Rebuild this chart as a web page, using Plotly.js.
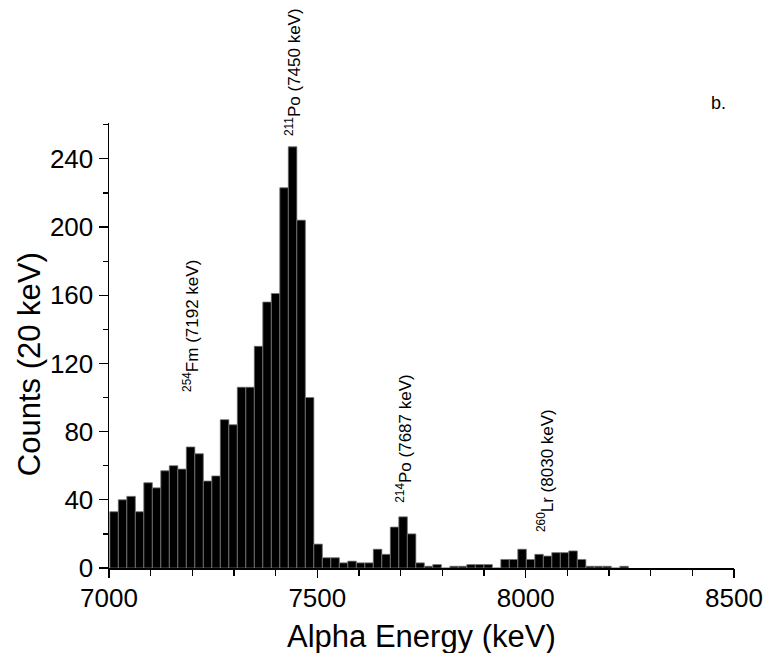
<!DOCTYPE html>
<html>
<head>
<meta charset="utf-8">
<script src="https://cdn.plot.ly/plotly-3.0.1.min.js"></script>
<style>html,body{margin:0;padding:0;background:#fff;}#chart{width:767px;height:653px;}</style>
</head>
<body>
<div id="chart"></div>
<script>
// Histogram of alpha energies (counts per bin), bins starting near 7000 keV
const binStart = 7002;      // keV, left edge of first bin
const binWidth = 20.4;      // keV
const counts = [
  33, 40, 42, 33, 50, 47, 57, 60, 58, 71,
  67, 51, 54, 87, 84, 106, 106, 130, 156, 161,
  223, 247, 204, 100, 14, 6, 6, 3, 4, 3,
  3, 11, 8, 24, 30, 20, 3, 1, 2, 0,
  1, 1, 2, 2, 2, 0, 5, 5, 11, 5,
  8, 7, 9, 9, 10, 5, 1, 1, 1, 0,
  1
];
const peakLabels = [
  '<sup>211</sup>Po (7450 keV)',
  '<sup>254</sup>Fm (7192 keV)',
  '<sup>214</sup>Po (7687 keV)',
  '<sup>260</sup>Lr (8030 keV)'
];
const peakLabelX = [7442, 7197, 7709, 8047];
const peakLabelY = [291, 142, 76, 57];   // counts scale (may lie above the axis top)
const panelLabel = 'b.';
const xTitle = 'Alpha Energy (keV)';
const yTitle = 'Counts (20 keV)';
const xTickVals = [7000, 7100, 7200, 7300, 7400, 7500, 7600, 7700, 7800, 7900,
                   8000, 8100, 8200, 8300, 8400, 8500];
const xTickText = ['7000', '', '', '', '', '7500', '', '', '', '',
                   '8000', '', '', '', '', '8500'];
const xMajorVals = [7000, 7500, 8000, 8500];
const yTickVals = [0, 40, 80, 120, 160, 200, 240];
const yMinorVals = [20, 60, 100, 140, 180, 220, 260];

const font = 'Liberation Sans, Arial, sans-serif';
const xRange = [7000, 8500];
const yMax = 261;

const trace = {
  type: 'bar',
  x0: binStart + binWidth / 2,
  dx: binWidth,
  y: counts,
  marker: {color: '#000', line: {color: '#9a9a9a', width: 0.6}},
  hoverinfo: 'skip'
};
// same bars again on an overlaid axis that carries the longer major ticks
const majorAxisTrace = Object.assign({}, trace, {xaxis: 'x2', yaxis: 'y'});

const annotations = peakLabels.map((t, i) => ({
  text: t, x: peakLabelX[i], y: peakLabelY[i] / yMax, xref: 'x', yref: 'paper',
  textangle: -90, showarrow: false, xanchor: 'center', yanchor: 'middle',
  font: {family: font, size: 17, color: '#000'}
}));
annotations.push({
  text: panelLabel, x: 8463, y: 1.045, xref: 'x', yref: 'paper', showarrow: false,
  xanchor: 'center', yanchor: 'middle', font: {family: font, size: 18, color: '#000'}
});
annotations.push({
  text: yTitle, x: -0.128, y: 0.458, xref: 'paper', yref: 'paper', showarrow: false,
  textangle: -90, xanchor: 'center', yanchor: 'middle', font: {family: font, size: 31, color: '#000'}
});
annotations.push({
  text: xTitle, x: 0.5, y: -0.153, xref: 'paper', yref: 'paper', showarrow: false,
  xanchor: 'center', yanchor: 'middle', font: {family: font, size: 31, color: '#000'}
});

const layout = {
  width: 767, height: 653,
  margin: {l: 109, r: 33, t: 123, b: 85},
  paper_bgcolor: '#fff', plot_bgcolor: '#fff',
  showlegend: false,
  bargap: 0,
  font: {family: font, color: '#000'},
  xaxis: {
    range: xRange, tickmode: 'array', tickvals: xTickVals, ticktext: xTickText,
    showgrid: false, zeroline: false, showline: true, linecolor: '#000', linewidth: 1.5,
    ticks: 'outside', ticklen: 6, tickwidth: 1.2, tickcolor: '#000',
    tickfont: {family: font, size: 26}
  },
  xaxis2: {
    range: xRange, overlaying: 'x', anchor: 'y', side: 'bottom',
    tickmode: 'array', tickvals: xMajorVals,
    ticks: 'outside', ticklen: 9, tickwidth: 1.3, tickcolor: '#000',
    showticklabels: false, showgrid: false, zeroline: false, showline: false
  },
  yaxis: {
    range: [0, yMax], tickmode: 'array', tickvals: yTickVals, ticktext: yTickVals.map(String),
    showgrid: false, zeroline: false, showline: true, linecolor: '#000', linewidth: 1.5,
    ticks: 'outside', ticklen: 9, tickwidth: 1.3, tickcolor: '#000',
    tickfont: {family: font, size: 26},
    minor: {tickmode: 'array', tickvals: yMinorVals, ticks: 'outside', ticklen: 5, tickwidth: 1.2, tickcolor: '#000', showgrid: false}
  },
  annotations: annotations
};

Plotly.newPlot('chart', [trace, majorAxisTrace], layout, {displayModeBar: false, staticPlot: true});
</script>
</body>
</html>
